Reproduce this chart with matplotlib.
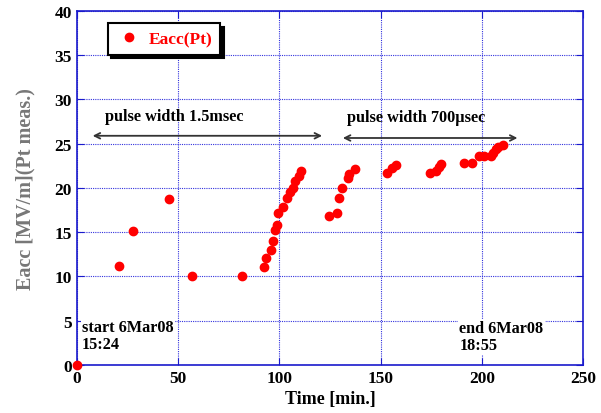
import matplotlib.pyplot as plt

# time [min] and Eacc [MV/m]
time_min = [0, 20.9, 27.8, 45.6, 56.7, 81.5,
            92.6, 93.5, 95.7, 96.7, 97.7, 98.7, 99.5, 101.8, 103.6, 105.2,
            106.6, 107.7, 109.5, 110.5,
            124.5, 128.6, 129.6, 131.1, 133.7, 134.5, 137.4,
            153.2, 155.5, 157.5,
            174.2, 177.2, 178.9, 180.0,
            191.0, 195.2, 198.5, 201.1, 204.4, 205.4, 207.0, 208.2, 210.3]
eacc = [0, 11.15, 15.1, 18.75, 10.1, 10.1,
        11.07, 12.1, 12.95, 13.97, 15.25, 15.8, 17.2, 17.9, 18.9, 19.5,
        19.97, 20.8, 21.3, 21.96,
        16.8, 17.17, 18.87, 20.0, 21.1, 21.6, 22.2,
        21.7, 22.3, 22.55,
        21.7, 21.9, 22.4, 22.7,
        22.87, 22.87, 23.57, 23.57, 23.57, 23.95, 24.4, 24.6, 24.86]

serif = ["Liberation Serif", "DejaVu Serif"]
plt.rcParams["font.family"] = serif
plt.rcParams["font.weight"] = "bold"

blue = "#1a1acc"

fig = plt.figure(figsize=(6.01, 4.14), dpi=100)
ax = fig.add_axes([0.128, 0.116, 0.842, 0.855])

ax.plot(time_min, eacc, "o", color="red", ms=6, label="Eacc(Pt)",
        clip_on=False, zorder=5)

ax.set_xlim(0, 250)
ax.set_ylim(0, 40)
ax.set_xticks(range(0, 251, 50))
ax.set_yticks(range(0, 41, 5))
ax.grid(True, color="#3333dd", linestyle=(0, (1, 1)), linewidth=0.8)
for s in ax.spines.values():
    s.set_color(blue)
    s.set_linewidth(1.2)
ax.tick_params(direction="in", colors=blue, labelcolor="black",
               labelsize=12.5, top=True, right=True, length=5)
for lbl in ax.get_xticklabels() + ax.get_yticklabels():
    lbl.set_fontweight("bold")

ax.set_xlabel("Time [min.]", fontsize=13, fontweight="bold", labelpad=3)
ax.set_ylabel("Eacc [MV/m](Pt meas.)", fontsize=14.5, fontweight="bold",
              color="#777777", labelpad=14)

# pulse-width arrows
ax.annotate("", xy=(6.4, 25.9), xytext=(122.5, 25.9),
            arrowprops=dict(arrowstyle="<->", color="#333333", lw=1.3))
ax.annotate("", xy=(130, 25.65), xytext=(219, 25.65),
            arrowprops=dict(arrowstyle="<->", color="#333333", lw=1.3))
ax.text(13.8, 28.1, "pulse width 1.5msec", fontsize=11.7, fontweight="bold",
        va="center")
ax.text(133.4, 28.0, "pulse width 700\u00b5sec", fontsize=11.7,
        fontweight="bold", va="center")

ax.text(2.5, 1.5, "start 6Mar08\n15:24", fontsize=11.7, fontweight="bold",
        va="bottom", linespacing=1.1,
        bbox=dict(facecolor="white", edgecolor="none", pad=1))
ax.text(189, 1.3, "end 6Mar08\n18:55", fontsize=11.7, fontweight="bold",
        va="bottom", linespacing=1.1,
        bbox=dict(facecolor="white", edgecolor="none", pad=1))

leg = ax.legend(loc="upper left", bbox_to_anchor=(0.061, 0.966),
                borderaxespad=0, fancybox=False, edgecolor="black",
                framealpha=1, labelcolor="red", handletextpad=0.3,
                handlelength=1.6, borderpad=0.45,
                prop=dict(family=serif, weight="bold", size=12.5),
                shadow=dict(color="black", alpha=1, ox=2.5, oy=-2.5))
leg.get_frame().set_linewidth(1.5)

fig.savefig("out.png", dpi=100)
